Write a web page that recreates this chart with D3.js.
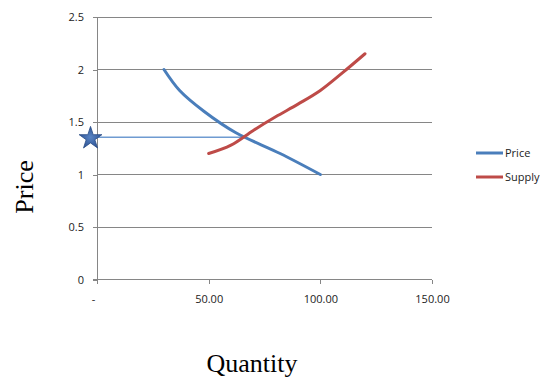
<!DOCTYPE html>
<html><head><meta charset="utf-8">
<script src="https://cdn.jsdelivr.net/npm/d3@7"></script>
<style>body{margin:0;background:#fff}</style>
</head><body>
<svg id="c" width="556" height="385"></svg>
<script>
const priceQty = [30, 37, 48, 62, 82, 100];
const priceVal = [2.0, 1.8, 1.6, 1.4, 1.2, 1.0];
const supplyQty = [50, 60, 70, 80, 90, 100, 110, 120];
const supplyVal = [1.2, 1.28, 1.42, 1.55, 1.67, 1.8, 1.97, 2.15];
const eqQty = [-2.9, 65.6];
const eqVal = [1.354, 1.354];
const xTicks = [0, 50, 100, 150];
const xTickLabels = ["-", "50.00", "100.00", "150.00"];
const yTicks = [0, 0.5, 1, 1.5, 2, 2.5];
const seriesNames = ["Price", "Supply"];
const colors = ["#4A7EBB", "#BE4B48"];

const svg = d3.select("#c");
const x = d3.scaleLinear().domain([0,150]).range([97,432]);
const y = d3.scaleLinear().domain([0,2.5]).range([279.5,17]);
const font = "'Open Sans', sans-serif";

// gridlines
svg.append("g").selectAll("line").data(yTicks.filter(d=>d>0)).join("line")
  .attr("x1", x(0)).attr("x2", x(150)).attr("y1", d=>y(d)).attr("y2", d=>y(d))
  .attr("stroke","#868686").attr("stroke-width",1).attr("shape-rendering","crispEdges");

// y axis
const yAxis = d3.axisLeft(y).tickValues(yTicks).tickSize(4).tickPadding(9).tickFormat(d=>String(d));
const gy = svg.append("g").attr("transform",`translate(${x(0)},0)`).call(yAxis);
gy.select(".domain").attr("stroke","#868686").attr("d",`M-4,${y(2.5)}H0V${y(0)}H-4`).attr("shape-rendering","crispEdges");
gy.selectAll(".tick line").attr("stroke","#868686").attr("shape-rendering","crispEdges");
gy.selectAll("text").attr("font-family",font).attr("font-size",11).attr("fill","#222");

// x axis
const xAxis = d3.axisBottom(x).tickValues(xTicks).tickSize(4).tickPadding(12).tickFormat((d,i)=>xTickLabels[i]);
const gx = svg.append("g").attr("transform",`translate(0,${y(0)})`).call(xAxis);
gx.select(".domain").attr("stroke","#868686").attr("d",`M${x(0)},0H${x(150)}`).attr("shape-rendering","crispEdges");
gx.selectAll(".tick line").attr("stroke","#868686").attr("shape-rendering","crispEdges");
gx.selectAll("text").attr("font-family",font).attr("font-size",11).attr("fill","#222");
gx.selectAll(".tick text").filter((d,i)=>i===0).attr("dx",-4);

const line = d3.line().x(d=>x(d[0])).y(d=>y(d[1])).curve(d3.curveCatmullRom.alpha(0.5));

// equilibrium line
svg.append("path").datum(d3.zip(eqQty,eqVal))
  .attr("d", d3.line().x(d=>x(d[0])).y(d=>y(d[1])))
  .attr("stroke","#6F9BD1").attr("stroke-width",1.5).attr("fill","none");

svg.append("path").datum(d3.zip(priceQty,priceVal)).attr("d",line)
  .attr("stroke",colors[0]).attr("stroke-width",3).attr("fill","none").attr("stroke-linecap","round");
svg.append("path").datum(d3.zip(supplyQty,supplyVal)).attr("d",line)
  .attr("stroke",colors[1]).attr("stroke-width",3).attr("fill","none").attr("stroke-linecap","round");

// star marker
const defs = svg.append("defs");
const grad = defs.append("radialGradient").attr("id","sg");
grad.append("stop").attr("offset","0%").attr("stop-color","#5A85C4");
grad.append("stop").attr("offset","100%").attr("stop-color","#2F5597");
svg.append("path").attr("d", d3.symbol(d3.symbolStar, 160)())
  .attr("transform",`translate(${x(eqQty[0])},${y(eqVal[0])+1})`)
  .attr("fill","url(#sg)").attr("stroke","#2A4C85").attr("stroke-width",0.8);

// legend
const lg = svg.append("g");
seriesNames.forEach((n,i)=>{
  const ly = 153 + i*24;
  lg.append("line").attr("x1",476).attr("x2",503).attr("y1",ly).attr("y2",ly)
    .attr("stroke",colors[i]).attr("stroke-width",3);
  lg.append("text").attr("x",505).attr("y",ly).attr("dy","0.35em")
    .attr("font-family",font).attr("font-size",11).attr("fill","#222").text(n);
});

// axis titles
svg.append("text").attr("transform","translate(33,187) rotate(-90)").attr("text-anchor","middle")
  .attr("font-family","'Liberation Serif', serif").attr("font-size",26).text("Price");
svg.append("text").attr("x",252).attr("y",372).attr("text-anchor","middle")
  .attr("font-family","'Liberation Serif', serif").attr("font-size",26).text("Quantity");
</script>
</body></html>
